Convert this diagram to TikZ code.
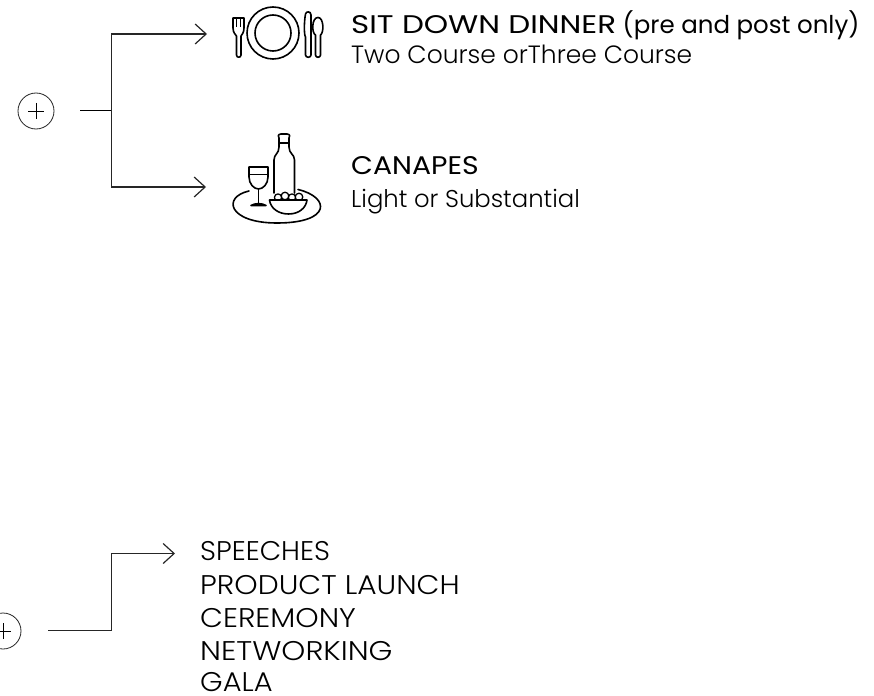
\documentclass[tikz,border=0pt]{standalone}
\usepackage{fontspec}
\setmainfont{Poppins}
\newfontfamily\lightf{Poppins Light}
\usetikzlibrary{arrows.meta}
\newcommand{\wcaps}[2]{\scalebox{#1}[1]{#2}}
\newcommand{\hcaps}{\fontsize{25.5}{25.5}\selectfont}
\tikzset{
  x=1pt,y=-1pt,
  head/.style={font=\fontsize{24.5}{24.5}\selectfont,anchor=base west,inner sep=0pt,text=black},
  body/.style={font=\lightf\fontsize{24.5}{24.5}\selectfont,anchor=base west,inner sep=0pt,text=black},
  listc/.style={font=\lightf\fontsize{27}{27}\selectfont,anchor=base west,inner sep=0pt,text=black},
  conn/.style={line width=1.2pt,black!85,-{Straight Barb[length=11pt,width=20pt,line width=1.2pt]}},
  icon/.style={line width=1.6pt,black,line cap=round,line join=round},
  plusc/.style={circle,draw,line width=.8pt,minimum size=36pt,inner sep=0pt,black!85}
}
\begin{document}
\begin{tikzpicture}
\useasboundingbox (0,0) rectangle (874,695);
% plus markers
\node[plusc] (p1) at (36,111) {};
\draw[line width=.7pt] (28,111) -- (44,111) (36,103) -- (36,119);
\node[plusc] (p2) at (3,631) {};
\draw[line width=.7pt] (-5,631) -- (11,631) (3,623) -- (3,639);
% connectors
\coordinate (s1) at (80,110.5);
\coordinate (j1) at (111.5,110.5);
\coordinate (t1) at (207,34);
\coordinate (t2) at (206,187);
\draw[line width=1.8pt] (s1) -- (j1);
\draw[conn] (j1) |- (t1);
\draw[conn] (j1) |- (t2);
\coordinate (s2) at (48,630.5);
\coordinate (t3) at (175,553.5);
\draw[conn] (s2) -- (111.5,630.5) |- (t3);
% plate icon
\draw[icon] (273,33) circle (26);
\draw[icon] (273,33) circle (18);
% fork
\draw[icon] (233,18) -- (233,28) .. controls (233,33) and (236,35) .. (236.5,36) -- (236.5,55) .. controls (236.5,58) and (241,58) .. (241,55) -- (241,36) .. controls (241.5,35) and (244,33) .. (244,28) -- (244,18) -- cycle;
\draw[line width=1pt] (236.7,18) -- (236.7,27) (240.3,18) -- (240.3,27);
% knife
\draw[icon] (305.5,14) .. controls (306,11) and (311,11) .. (311,15) -- (311,55) .. controls (311,58) and (305.5,58) .. (305.5,55) -- (305.5,37) .. controls (304,35) and (304,22) .. (305.5,14) -- cycle;
% spoon
\draw[icon] (318,17.5) .. controls (324,17.5) and (324,33) .. (320.5,35) -- (320.5,55) .. controls (320.5,58) and (315.5,58) .. (315.5,55) -- (315.5,35) .. controls (311.5,33) and (311.5,17.5) .. (318,17.5) -- cycle;
% tray
\draw[icon] (249,191) .. controls (222,197) and (228,223) .. (277,223) .. controls (332,223) and (330,197) .. (298,189.5);
% bottle
\draw[icon] (274,193) -- (274,160) .. controls (274,154) and (279,154) .. (279,147) -- (279,138) .. controls (277.5,137) and (278,134) .. (281,134) -- (287,134) .. controls (290,134) and (290.5,137) .. (289,138) -- (289,147) .. controls (289,154) and (294.5,154) .. (294.5,160) -- (294.5,193);
\draw[icon] (279,143) -- (289,143);
% glass
\draw[icon] (249,167) -- (268,167) -- (268,177) .. controls (268,184) and (263,189) .. (258.5,189) .. controls (254,189) and (249,184) .. (249,177) -- cycle;
\draw[icon] (249,174.5) -- (268,174.5);
\draw[icon] (258.5,189) -- (258.5,204);
\draw[icon,fill=black] (251,205.5) .. controls (255,203) and (262,203) .. (266,205.5) -- cycle;
% olives
\draw[icon,fill=white,line width=1.3pt] (278,197.5) circle (3.6) (285,196) circle (3.8) (292,197.5) circle (3.6) (299,197) circle (3.8);
% bowl
\draw[icon,fill=white] (269.5,200) -- (307,200) .. controls (306,208) and (299,214) .. (288.5,214) .. controls (278,214) and (270.5,208) .. (269.5,200) -- cycle;
% texts
\node[head] (h1) at (351,33.5) {\wcaps{1.214}{\hcaps SIT DOWN DINNER} (pre and post only)};
\node[body,font=\lightf\fontsize{25}{25}\selectfont] (b1) at (351,64) {Two Course orThree Course};
\node[head] (h2) at (351,174) {\wcaps{1.11}{\hcaps CANAPES}};
\node[body,font=\lightf\fontsize{24.3}{24.3}\selectfont] (b2) at (351,207) {Light or Substantial};
\node[listc] (l1) at (200,560) {\wcaps{1.03}{SPEECHES}};
\node[listc] (l2) at (200,594) {\wcaps{1.10}{PRODUCT LAUNCH}};
\node[listc] (l3) at (200,627) {\wcaps{1.10}{CEREMONY}};
\node[listc] (l4) at (200,660.5) {\wcaps{1.13}{NETWORKING}};
\node[listc] (l5) at (200,691.5) {\wcaps{1.07}{GALA}};
\end{tikzpicture}
\end{document}
